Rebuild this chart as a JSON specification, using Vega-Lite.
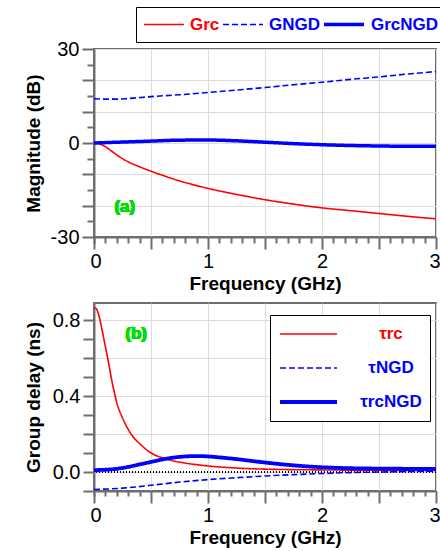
{
  "$schema": "https://vega.github.io/schema/vega-lite/v6.json",
  "padding": {"left": 23, "top": 5, "right": 4, "bottom": 5},
  "spacing": 8,
  "config": {
    "font": "Liberation Sans",
    "view": {"stroke": "#6e6e6e", "strokeWidth": 2},
    "axis": {
      "labelFont": "Liberation Sans", "labelFontSize": 20, "labelColor": "black",
      "titleFont": "Liberation Sans", "titleFontSize": 19, "titleFontWeight": "bold", "titleColor": "black",
      "domainColor": "#6e6e6e", "domainWidth": 2, "tickColor": "#6e6e6e", "tickWidth": 2,
      "gridColor": "#dcdcdc", "gridWidth": 1, "labelOverlap": false, "labelBound": false, "labelFlush": false
    }
  },
  "vconcat": [
    {
      "width": 342, "height": 188,
      "data": {"values": [
        {"s": "Grc", "f": 0, "v": 0}, {"s": "Grc", "f": 0.05, "v": -0.3}, {"s": "Grc", "f": 0.1, "v": -1.2}, {"s": "Grc", "f": 0.15, "v": -2.5}, {"s": "Grc", "f": 0.2, "v": -3.8}, {"s": "Grc", "f": 0.25, "v": -5.0}, {"s": "Grc", "f": 0.3, "v": -6.0}, {"s": "Grc", "f": 0.4, "v": -7.6}, {"s": "Grc", "f": 0.5, "v": -9.0}, {"s": "Grc", "f": 0.6, "v": -10.3}, {"s": "Grc", "f": 0.75, "v": -12.1}, {"s": "Grc", "f": 0.9, "v": -13.6}, {"s": "Grc", "f": 1.0, "v": -14.5}, {"s": "Grc", "f": 1.25, "v": -16.4}, {"s": "Grc", "f": 1.5, "v": -18.1}, {"s": "Grc", "f": 1.75, "v": -19.5}, {"s": "Grc", "f": 2.0, "v": -20.7}, {"s": "Grc", "f": 2.25, "v": -21.6}, {"s": "Grc", "f": 2.5, "v": -22.5}, {"s": "Grc", "f": 2.75, "v": -23.4}, {"s": "Grc", "f": 3.0, "v": -24.2},
        {"s": "GNGD", "f": 0, "v": 14.1}, {"s": "GNGD", "f": 0.1, "v": 14.0}, {"s": "GNGD", "f": 0.2, "v": 14.0}, {"s": "GNGD", "f": 0.3, "v": 14.2}, {"s": "GNGD", "f": 0.5, "v": 14.8}, {"s": "GNGD", "f": 0.75, "v": 15.4}, {"s": "GNGD", "f": 1.0, "v": 16.1}, {"s": "GNGD", "f": 1.25, "v": 16.9}, {"s": "GNGD", "f": 1.5, "v": 17.7}, {"s": "GNGD", "f": 1.75, "v": 18.6}, {"s": "GNGD", "f": 2.0, "v": 19.4}, {"s": "GNGD", "f": 2.25, "v": 20.3}, {"s": "GNGD", "f": 2.5, "v": 21.1}, {"s": "GNGD", "f": 2.75, "v": 22.0}, {"s": "GNGD", "f": 3.0, "v": 22.8},
        {"s": "GrcNGD", "f": 0, "v": 0}, {"s": "GrcNGD", "f": 0.25, "v": 0.3}, {"s": "GrcNGD", "f": 0.5, "v": 0.6}, {"s": "GrcNGD", "f": 0.75, "v": 0.9}, {"s": "GrcNGD", "f": 1.0, "v": 0.95}, {"s": "GrcNGD", "f": 1.25, "v": 0.7}, {"s": "GrcNGD", "f": 1.5, "v": 0.25}, {"s": "GrcNGD", "f": 1.75, "v": -0.2}, {"s": "GrcNGD", "f": 2.0, "v": -0.55}, {"s": "GrcNGD", "f": 2.25, "v": -0.8}, {"s": "GrcNGD", "f": 2.5, "v": -0.95}, {"s": "GrcNGD", "f": 2.75, "v": -1.05}, {"s": "GrcNGD", "f": 3.0, "v": -1.05}
      ]},
      "resolve": {"axis": {"x": "independent", "y": "independent"}},
      "layer": [
        {
          "mark": {"type": "line", "interpolate": "monotone"},
          "encoding": {
            "x": {"field": "f", "type": "quantitative", "scale": {"domain": [0, 3], "nice": false},
              "axis": {"orient": "bottom", "title": "Frequency (GHz)", "values": [0, 0.5, 1, 1.5, 2, 2.5, 3],
                "labelOverlap": false, "labelExpr": "datum.value % 1 === 0 ? format(datum.value, 'd') : ''",
                "labelFlush": true, "labelFlushOffset": 4,
                "tickSize": 12, "grid": true, "labelPadding": 2, "titlePadding": 3}},
            "y": {"field": "v", "type": "quantitative", "scale": {"domain": [-30, 30], "nice": false},
              "axis": {"orient": "left", "title": "Magnitude (dB)", "values": [-30, -20, -10, 0, 10, 20, 30],
                "labelOverlap": false,
                "labelExpr": "datum.value === 30 ? '30' : datum.value === 0 ? '0' : datum.value === -30 ? '-30' : ''",
                "tickSize": 12, "grid": true, "labelPadding": 3, "titlePadding": 7}},
            "color": {"field": "s", "type": "nominal", "sort": ["Grc", "GNGD", "GrcNGD"],
              "scale": {"domain": ["Grc", "GNGD", "GrcNGD"], "range": ["#ff0000", "#0000ff", "#0000ff"]},
              "legend": {"orient": "none", "legendX": 42, "legendY": -42, "direction": "horizontal", "title": null,
                "symbolType": "stroke", "symbolSize": 1600, "labelFont": "Liberation Sans", "labelFontSize": 17, "labelFontWeight": "bold",
                "labelOffset": 5, "columnPadding": 2, "strokeColor": "black", "fillColor": "white", "padding": 7, "clipHeight": 21,
                "encode": {"labels": {"update": {"fill": {"signal": "datum.value === 'Grc' ? '#ff0000' : '#0000ff'"}}}}}},
            "strokeDash": {"field": "s", "type": "nominal", "sort": ["Grc", "GNGD", "GrcNGD"],
              "scale": {"domain": ["Grc", "GNGD", "GrcNGD"], "range": [[1, 0], [6, 3], [1, 0]]},
              "legend": {"orient": "none", "legendX": 42, "legendY": -42, "direction": "horizontal", "title": null,
                "symbolType": "stroke", "symbolSize": 1600, "labelFont": "Liberation Sans", "labelFontSize": 17, "labelFontWeight": "bold",
                "labelOffset": 5, "columnPadding": 2, "strokeColor": "black", "fillColor": "white", "padding": 7, "clipHeight": 21,
                "encode": {"labels": {"update": {"fill": {"signal": "datum.value === 'Grc' ? '#ff0000' : '#0000ff'"}}}}}},
            "strokeWidth": {"field": "s", "type": "nominal", "sort": ["Grc", "GNGD", "GrcNGD"],
              "scale": {"type": "ordinal", "domain": ["Grc", "GNGD", "GrcNGD"], "range": [1.6, 1.6, 3.5]},
              "legend": {"orient": "none", "legendX": 42, "legendY": -42, "direction": "horizontal", "title": null,
                "symbolType": "stroke", "symbolSize": 1600, "labelFont": "Liberation Sans", "labelFontSize": 17, "labelFontWeight": "bold",
                "labelOffset": 5, "columnPadding": 2, "strokeColor": "black", "fillColor": "white", "padding": 7, "clipHeight": 21,
                "encode": {"labels": {"update": {"fill": {"signal": "datum.value === 'Grc' ? '#ff0000' : '#0000ff'"}}}}}}
          }
        },
        {
          "mark": {"type": "text", "text": "(a)", "color": "#00e000", "fontWeight": "bold", "fontSize": 17, "font": "Liberation Sans"},
          "encoding": {
            "x": {"datum": 0.27, "type": "quantitative",
              "axis": {"orient": "bottom", "title": null, "values": [0,0.1,0.2,0.3,0.4,0.6,0.7,0.8,0.9,1.1,1.2,1.3,1.4,1.6,1.7,1.8,1.9,2.1,2.2,2.3,2.4,2.6,2.7,2.8,2.9],
                "labels": false, "grid": false, "domain": false, "tickSize": 6}},
            "y": {"datum": -20.3, "type": "quantitative",
              "axis": {"orient": "left", "title": null, "values": [-25, -15, -5, 5, 15, 25],
                "labels": false, "grid": false, "domain": false, "tickSize": 7}}
          }
        }
      ]
    },
    {
      "width": 342, "height": 188,
      "data": {"values": [
        {"t": "τrc", "f": 0, "v": 0.865}, {"t": "τrc", "f": 0.02, "v": 0.86}, {"t": "τrc", "f": 0.04, "v": 0.83}, {"t": "τrc", "f": 0.06, "v": 0.78}, {"t": "τrc", "f": 0.08, "v": 0.72}, {"t": "τrc", "f": 0.1, "v": 0.66}, {"t": "τrc", "f": 0.12, "v": 0.6}, {"t": "τrc", "f": 0.14, "v": 0.535}, {"t": "τrc", "f": 0.16, "v": 0.47}, {"t": "τrc", "f": 0.18, "v": 0.415}, {"t": "τrc", "f": 0.2, "v": 0.365}, {"t": "τrc", "f": 0.25, "v": 0.285}, {"t": "τrc", "f": 0.3, "v": 0.225}, {"t": "τrc", "f": 0.35, "v": 0.18}, {"t": "τrc", "f": 0.4, "v": 0.15}, {"t": "τrc", "f": 0.5, "v": 0.1}, {"t": "τrc", "f": 0.6, "v": 0.075}, {"t": "τrc", "f": 0.7, "v": 0.058}, {"t": "τrc", "f": 0.8, "v": 0.047}, {"t": "τrc", "f": 1.0, "v": 0.032}, {"t": "τrc", "f": 1.25, "v": 0.021}, {"t": "τrc", "f": 1.5, "v": 0.015}, {"t": "τrc", "f": 2.0, "v": 0.011}, {"t": "τrc", "f": 2.5, "v": 0.009}, {"t": "τrc", "f": 3.0, "v": 0.008},
        {"t": "τNGD", "f": 0, "v": -0.092}, {"t": "τNGD", "f": 0.25, "v": -0.085}, {"t": "τNGD", "f": 0.5, "v": -0.07}, {"t": "τNGD", "f": 0.75, "v": -0.053}, {"t": "τNGD", "f": 1.0, "v": -0.04}, {"t": "τNGD", "f": 1.25, "v": -0.03}, {"t": "τNGD", "f": 1.5, "v": -0.021}, {"t": "τNGD", "f": 1.75, "v": -0.014}, {"t": "τNGD", "f": 2.0, "v": -0.008}, {"t": "τNGD", "f": 2.25, "v": -0.003}, {"t": "τNGD", "f": 2.5, "v": 0.0}, {"t": "τNGD", "f": 2.75, "v": 0.003}, {"t": "τNGD", "f": 3.0, "v": 0.004},
        {"t": "τrcNGD", "f": 0, "v": 0.01}, {"t": "τrcNGD", "f": 0.1, "v": 0.012}, {"t": "τrcNGD", "f": 0.2, "v": 0.017}, {"t": "τrcNGD", "f": 0.3, "v": 0.027}, {"t": "τrcNGD", "f": 0.4, "v": 0.04}, {"t": "τrcNGD", "f": 0.5, "v": 0.053}, {"t": "τrcNGD", "f": 0.6, "v": 0.066}, {"t": "τrcNGD", "f": 0.7, "v": 0.076}, {"t": "τrcNGD", "f": 0.8, "v": 0.082}, {"t": "τrcNGD", "f": 0.9, "v": 0.084}, {"t": "τrcNGD", "f": 1.0, "v": 0.082}, {"t": "τrcNGD", "f": 1.1, "v": 0.077}, {"t": "τrcNGD", "f": 1.25, "v": 0.068}, {"t": "τrcNGD", "f": 1.5, "v": 0.05}, {"t": "τrcNGD", "f": 1.75, "v": 0.035}, {"t": "τrcNGD", "f": 2.0, "v": 0.025}, {"t": "τrcNGD", "f": 2.25, "v": 0.02}, {"t": "τrcNGD", "f": 2.5, "v": 0.018}, {"t": "τrcNGD", "f": 2.75, "v": 0.017}, {"t": "τrcNGD", "f": 3.0, "v": 0.017}
      ]},
      "resolve": {"axis": {"x": "independent", "y": "independent"}},
      "layer": [
        {
          "mark": {"type": "rule", "color": "black", "strokeDash": [1, 2], "strokeWidth": 1.2},
          "encoding": {"y": {"datum": 0, "type": "quantitative", "axis": null}}
        },
        {
          "mark": {"type": "line", "interpolate": "monotone"},
          "encoding": {
            "x": {"field": "f", "type": "quantitative", "scale": {"domain": [0, 3], "nice": false},
              "axis": {"orient": "bottom", "title": "Frequency (GHz)", "values": [0, 0.5, 1, 1.5, 2, 2.5, 3],
                "labelOverlap": false, "labelExpr": "datum.value % 1 === 0 ? format(datum.value, 'd') : ''",
                "labelFlush": true, "labelFlushOffset": 4,
                "tickSize": 12, "grid": true, "labelPadding": 2, "titlePadding": 3}},
            "y": {"field": "v", "type": "quantitative", "scale": {"domain": [-0.1, 0.89], "nice": false, "zero": false},
              "axis": {"orient": "left", "title": "Group delay (ns)", "values": [0, 0.2, 0.4, 0.6, 0.8],
                "labelOverlap": false,
                "labelExpr": "datum.value === 0 ? '0.0' : datum.value === 0.4 ? '0.4' : datum.value === 0.8 ? '0.8' : ''",
                "tickSize": 11, "grid": true, "labelPadding": 3, "titlePadding": 9}},
            "color": {"field": "t", "type": "nominal", "sort": ["τrc", "τNGD", "τrcNGD"],
              "scale": {"domain": ["τrc", "τNGD", "τrcNGD"], "range": ["#ff0000", "#0000ff", "#0000ff"]},
              "legend": {"orient": "none", "legendX": 176, "legendY": 12, "direction": "vertical", "title": null,
                "symbolType": "stroke", "symbolSize": 3249, "labelFont": "Liberation Sans", "labelFontSize": 17, "labelFontWeight": "bold",
                "labelAlign": "center", "labelOffset": 52, "clipHeight": 22, "rowPadding": 12, "strokeColor": "black", "fillColor": "white", "padding": 8,
                "encode": {"labels": {"update": {"fill": {"signal": "datum.value === 'τrc' ? '#ff0000' : '#0000ff'"}}}}}},
            "strokeDash": {"field": "t", "type": "nominal", "sort": ["τrc", "τNGD", "τrcNGD"],
              "scale": {"domain": ["τrc", "τNGD", "τrcNGD"], "range": [[1, 0], [6, 3], [1, 0]]},
              "legend": {"orient": "none", "legendX": 176, "legendY": 12, "direction": "vertical", "title": null,
                "symbolType": "stroke", "symbolSize": 3249, "labelFont": "Liberation Sans", "labelFontSize": 17, "labelFontWeight": "bold",
                "labelAlign": "center", "labelOffset": 52, "clipHeight": 22, "rowPadding": 12, "strokeColor": "black", "fillColor": "white", "padding": 8,
                "encode": {"labels": {"update": {"fill": {"signal": "datum.value === 'τrc' ? '#ff0000' : '#0000ff'"}}}}}},
            "strokeWidth": {"field": "t", "type": "nominal", "sort": ["τrc", "τNGD", "τrcNGD"],
              "scale": {"type": "ordinal", "domain": ["τrc", "τNGD", "τrcNGD"], "range": [1.6, 1.6, 3.8]},
              "legend": {"orient": "none", "legendX": 176, "legendY": 12, "direction": "vertical", "title": null,
                "symbolType": "stroke", "symbolSize": 3249, "labelFont": "Liberation Sans", "labelFontSize": 17, "labelFontWeight": "bold",
                "labelAlign": "center", "labelOffset": 52, "clipHeight": 22, "rowPadding": 12, "strokeColor": "black", "fillColor": "white", "padding": 8,
                "encode": {"labels": {"update": {"fill": {"signal": "datum.value === 'τrc' ? '#ff0000' : '#0000ff'"}}}}}}
          }
        },
        {
          "mark": {"type": "text", "text": "(b)", "color": "#00e000", "fontWeight": "bold", "fontSize": 17, "font": "Liberation Sans"},
          "encoding": {
            "x": {"datum": 0.37, "type": "quantitative",
              "axis": {"orient": "bottom", "title": null, "values": [0,0.1,0.2,0.3,0.4,0.6,0.7,0.8,0.9,1.1,1.2,1.3,1.4,1.6,1.7,1.8,1.9,2.1,2.2,2.3,2.4,2.6,2.7,2.8,2.9],
                "labels": false, "grid": false, "domain": false, "tickSize": 5}},
            "y": {"datum": 0.726, "type": "quantitative",
              "axis": {"orient": "left", "title": null, "values": [-0.1, 0.1, 0.3, 0.5, 0.7],
                "labels": false, "grid": false, "domain": false, "tickSize": 11}}
          }
        }
      ]
    }
  ],
  "resolve": {
    "scale": {"color": "independent", "strokeDash": "independent", "strokeWidth": "independent"},
    "legend": {"color": "independent", "strokeDash": "independent", "strokeWidth": "independent"}
  }
}
